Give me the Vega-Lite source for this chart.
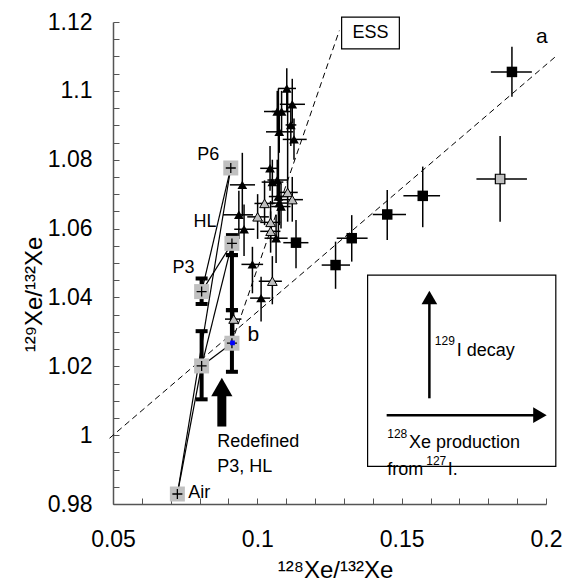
{
  "$schema": "https://vega.github.io/schema/vega-lite/v6.json",
  "autosize": "none",
  "width": 433,
  "height": 482,
  "padding": {"left": 113, "top": 22, "right": 23, "bottom": 80},
  "config": {"font": "Liberation Sans", "view": {"stroke": null}, "axis": {"grid": false}},
  "datasets": {
    "dash": [
      {"x": 0.0488, "y": 0.9991, "x2": 0.2031, "y2": 1.1098},
      {"x": 0.0911, "y": 1.0267, "x2": 0.1284, "y2": 1.1175}
    ],
    "mix": [
      {"x": 0.0723, "y": 0.9829, "x2": 0.0908, "y2": 1.0776},
      {"x": 0.0723, "y": 0.9829, "x2": 0.0807, "y2": 1.0201},
      {"x": 0.0807, "y": 1.0201, "x2": 0.0912, "y2": 1.0557},
      {"x": 0.0807, "y": 1.0201, "x2": 0.0912, "y2": 1.0267},
      {"x": 0.0807, "y": 1.0417, "x2": 0.0912, "y2": 1.0557},
      {"x": 0.0807, "y": 1.0417, "x2": 0.0908, "y2": 1.0776}
    ],
    "blk": [
      {"x": 0.1102, "y": 1.1007, "x1": 0.1072, "x2": 0.1134, "y1": 1.094, "y2": 1.1066},
      {"x": 0.1121, "y": 1.0961, "x1": 0.1078, "x2": 0.1165, "y1": 1.0905, "y2": 1.1035},
      {"x": 0.1069, "y": 1.094, "x1": 0.1023, "x2": 0.1102, "y1": 1.088, "y2": 1.1},
      {"x": 0.1084, "y": 1.094, "x1": 0.105, "x2": 0.1115, "y1": 1.088, "y2": 1.1},
      {"x": 0.1116, "y": 1.0901, "x1": 0.1098, "x2": 0.1135, "y1": 1.084, "y2": 1.096},
      {"x": 0.1076, "y": 1.0881, "x1": 0.103, "x2": 0.1124, "y1": 1.082, "y2": 1.094},
      {"x": 0.1127, "y": 1.0859, "x1": 0.1088, "x2": 0.1171, "y1": 1.08, "y2": 1.092},
      {"x": 0.0948, "y": 1.0727, "x1": 0.0905, "x2": 0.0992, "y1": 1.0635, "y2": 1.082},
      {"x": 0.1044, "y": 1.0775, "x1": 0.101, "x2": 0.1075, "y1": 1.071, "y2": 1.084},
      {"x": 0.1052, "y": 1.0735, "x1": 0.1015, "x2": 0.109, "y1": 1.067, "y2": 1.08},
      {"x": 0.1069, "y": 1.0741, "x1": 0.1035, "x2": 0.1105, "y1": 1.068, "y2": 1.08},
      {"x": 0.1073, "y": 1.0693, "x1": 0.104, "x2": 0.1108, "y1": 1.057, "y2": 1.1007},
      {"x": 0.1076, "y": 1.0674, "x1": 0.1042, "x2": 0.111, "y1": 1.061, "y2": 1.074},
      {"x": 0.1082, "y": 1.0664, "x1": 0.1048, "x2": 0.1115, "y1": 1.06, "y2": 1.073},
      {"x": 0.0936, "y": 1.064, "x1": 0.0881, "x2": 0.0985, "y1": 1.057, "y2": 1.071},
      {"x": 0.0954, "y": 1.0598, "x1": 0.092, "x2": 0.099, "y1": 1.052, "y2": 1.067},
      {"x": 0.1065, "y": 1.0572, "x1": 0.1025, "x2": 0.1105, "y1": 1.05, "y2": 1.064},
      {"x": 0.0983, "y": 1.0496, "x1": 0.0945, "x2": 0.102, "y1": 1.0412, "y2": 1.0547},
      {"x": 0.1013, "y": 1.0398, "x1": 0.0975, "x2": 0.1045, "y1": 1.033, "y2": 1.046}
    ],
    "gry": [
      {"x": 0.1105, "y": 1.0705, "x1": 0.107, "x2": 0.114, "y1": 1.062, "y2": 1.1},
      {"x": 0.1121, "y": 1.0684, "x1": 0.1085, "x2": 0.1158, "y1": 1.062, "y2": 1.075},
      {"x": 0.1025, "y": 1.0673, "x1": 0.099, "x2": 0.106, "y1": 1.061, "y2": 1.074},
      {"x": 0.1001, "y": 1.0634, "x1": 0.0965, "x2": 0.104, "y1": 1.057, "y2": 1.07},
      {"x": 0.1046, "y": 1.0618, "x1": 0.101, "x2": 0.108, "y1": 1.056, "y2": 1.068},
      {"x": 0.1046, "y": 1.0592, "x1": 0.101, "x2": 0.108, "y1": 1.053, "y2": 1.065},
      {"x": 0.1052, "y": 1.0447, "x1": 0.1005, "x2": 0.1085, "y1": 1.038, "y2": 1.052},
      {"x": 0.0918, "y": 1.0337, "x1": 0.0888, "x2": 0.0945, "y1": 1.0285, "y2": 1.0365}
    ],
    "sqb": [
      {"x": 0.1882, "y": 1.1055, "x1": 0.1809, "x2": 0.1951, "y1": 1.0983, "y2": 1.1128},
      {"x": 0.1573, "y": 1.0695, "x1": 0.1506, "x2": 0.1633, "y1": 1.0604, "y2": 1.078},
      {"x": 0.145, "y": 1.0641, "x1": 0.14, "x2": 0.1515, "y1": 1.0567, "y2": 1.0712},
      {"x": 0.1327, "y": 1.0572, "x1": 0.1275, "x2": 0.1382, "y1": 1.0504, "y2": 1.0639},
      {"x": 0.1271, "y": 1.0494, "x1": 0.1223, "x2": 0.1321, "y1": 1.0425, "y2": 1.0562},
      {"x": 0.1134, "y": 1.0559, "x1": 0.109, "x2": 0.1177, "y1": 1.0485, "y2": 1.0625}
    ],
    "sqg": [
      {"x": 0.1841, "y": 1.0744, "x1": 0.1759, "x2": 0.1934, "y1": 1.062, "y2": 1.0869}
    ],
    "mixp": [
      {"x": 0.0723, "y": 0.9829},
      {"x": 0.0908, "y": 1.0776},
      {"x": 0.0912, "y": 1.0557},
      {"x": 0.0807, "y": 1.0417},
      {"x": 0.0807, "y": 1.0201},
      {"x": 0.0912, "y": 1.0267}
    ],
    "terr": [
      {"x": 0.0807, "y1": 1.0381, "y2": 1.0455},
      {"x": 0.0807, "y1": 1.0104, "y2": 1.0302},
      {"x": 0.0912, "y1": 1.0363, "y2": 1.0581},
      {"x": 0.0912, "y1": 1.0523, "y2": 1.0523},
      {"x": 0.0912, "y1": 1.0184, "y2": 1.0363}
    ],
    "blue": [{"x": 0.0914, "y": 1.0268}],
    "boxes": [
      {"x": 0.1292, "y": 1.1122, "x2": 0.1492, "y2": 1.1214},
      {"x": 0.1382, "y": 0.9909, "x2": 0.2034, "y2": 1.0465}
    ],
    "shaft": [
      {"x": 0.1596, "y": 1.0107, "x2": 0.1596, "y2": 1.0385},
      {"x": 0.1448, "y": 1.0058, "x2": 0.1965, "y2": 1.0058}
    ],
    "headUp": [{"x": 0.1596, "y": 1.04}],
    "headRight": [{"x": 0.1979, "y": 1.0058}],
    "bigShaft": [{"x": 0.0877, "y": 1.0025, "x2": 0.0877, "y2": 1.0125}],
    "bigHead": [{"x": 0.0877, "y": 1.014}],
    "lblC": [
      {"x": 0.083, "y": 1.0814, "t": "P6"},
      {"x": 0.0819, "y": 1.062, "t": "HL"},
      {"x": 0.0744, "y": 1.0485, "t": "P3"},
      {"x": 0.1392, "y": 1.1168, "t": "ESS"}
    ],
    "lblL": [
      {"x": 0.0761, "y": 0.9831, "t": "Air"},
      {"x": 0.0861, "y": 0.9981, "t": "Redefined"},
      {"x": 0.0861, "y": 0.9908, "t": "P3, HL"},
      {"x": 0.1691, "y": 1.0245, "t": "I decay"},
      {"x": 0.1525, "y": 0.9976, "t": "Xe production"},
      {"x": 0.145, "y": 0.9899, "t": "from"},
      {"x": 0.166, "y": 0.9899, "t": "I."}
    ],
    "lblSup": [
      {"x": 0.1615, "y": 1.0273, "t": "129"},
      {"x": 0.145, "y": 1.0002, "t": "128"},
      {"x": 0.1585, "y": 0.9925, "t": "127"}
    ],
    "lblAB": [
      {"x": 0.1986, "y": 1.1156, "t": "a"},
      {"x": 0.0986, "y": 1.0291, "t": "b"}
    ]
  },
  "encoding": {
    "x": {
      "field": "x", "type": "quantitative",
      "scale": {"domain": [0.05, 0.2], "nice": false, "zero": false},
      "axis": {
        "values": [0.05, 0.06, 0.07, 0.08, 0.09, 0.1, 0.11, 0.12, 0.13, 0.14, 0.15, 0.16, 0.17, 0.18, 0.19, 0.2],
        "labelExpr": "round(datum.value*1000) % 50 === 0 ? format(datum.value, '~g') : ''",
        "tickSize": -6, "tickColor": "#555", "domainColor": "#555", "domainWidth": 1.5,
        "labelFontSize": 23, "labelColor": "black", "labelPadding": 30, "labelFlush": false, "labelOverlap": false,
        "title": "¹²⁸Xe/¹³²Xe", "titleFontSize": 24, "titleFontWeight": "normal", "titleColor": "black",
        "titleAnchor": null, "titleX": 222, "titleY": 73, "titleBaseline": "alphabetic", "titleAlign": "center"
      }
    },
    "y": {
      "field": "y", "type": "quantitative",
      "scale": {"domain": [0.98, 1.12], "nice": false, "zero": false},
      "axis": {
        "values": [0.98, 0.985, 0.99, 0.995, 1.0, 1.005, 1.01, 1.015, 1.02, 1.025, 1.03, 1.035, 1.04, 1.045, 1.05, 1.055, 1.06, 1.065, 1.07, 1.075, 1.08, 1.085, 1.09, 1.095, 1.1, 1.105, 1.11, 1.115, 1.12],
        "labelExpr": "round(datum.value*1000) % 20 === 0 ? format(datum.value, '~g') : ''",
        "tickSize": -6, "tickColor": "#555", "domainColor": "#555", "domainWidth": 1.5,
        "labelFontSize": 23, "labelColor": "black", "labelPadding": 27, "labelFlush": false, "labelOverlap": false,
        "title": "¹²⁹Xe/¹³²Xe", "titleFontSize": 24, "titleFontWeight": "normal", "titleColor": "black",
        "titleAnchor": null, "titleX": -72, "titleY": 272, "titleAngle": -90, "titleBaseline": "alphabetic", "titleAlign": "center"
      }
    }
  },
  "layer": [
    {"data": {"name": "dash"}, "mark": {"type": "rule", "strokeDash": [6, 4], "color": "black", "strokeWidth": 1},
     "encoding": {"x2": {"field": "x2"}, "y2": {"field": "y2"}}},
    {"data": {"name": "boxes"}, "mark": {"type": "rect", "fill": "white", "stroke": "black", "strokeWidth": 1.2},
     "encoding": {"x2": {"field": "x2"}, "y2": {"field": "y2"}}},
    {"data": {"name": "mix"}, "mark": {"type": "rule", "color": "black", "strokeWidth": 1.2},
     "encoding": {"x2": {"field": "x2"}, "y2": {"field": "y2"}}},
    {"data": {"name": "blk"}, "mark": {"type": "rule", "color": "black", "strokeWidth": 1.5},
     "encoding": {"x": {"field": "x1", "type": "quantitative"}, "x2": {"field": "x2"}}},
    {"data": {"name": "blk"}, "mark": {"type": "rule", "color": "black", "strokeWidth": 1.5},
     "encoding": {"y": {"field": "y1", "type": "quantitative"}, "y2": {"field": "y2"}}},
    {"data": {"name": "gry"}, "mark": {"type": "rule", "color": "black", "strokeWidth": 1.5},
     "encoding": {"x": {"field": "x1", "type": "quantitative"}, "x2": {"field": "x2"}}},
    {"data": {"name": "gry"}, "mark": {"type": "rule", "color": "black", "strokeWidth": 1.5},
     "encoding": {"y": {"field": "y1", "type": "quantitative"}, "y2": {"field": "y2"}}},
    {"data": {"name": "sqb"}, "mark": {"type": "rule", "color": "black", "strokeWidth": 1.5},
     "encoding": {"x": {"field": "x1", "type": "quantitative"}, "x2": {"field": "x2"}}},
    {"data": {"name": "sqb"}, "mark": {"type": "rule", "color": "black", "strokeWidth": 1.5},
     "encoding": {"y": {"field": "y1", "type": "quantitative"}, "y2": {"field": "y2"}}},
    {"data": {"name": "sqg"}, "mark": {"type": "rule", "color": "black", "strokeWidth": 1.5},
     "encoding": {"x": {"field": "x1", "type": "quantitative"}, "x2": {"field": "x2"}}},
    {"data": {"name": "sqg"}, "mark": {"type": "rule", "color": "black", "strokeWidth": 1.5},
     "encoding": {"y": {"field": "y1", "type": "quantitative"}, "y2": {"field": "y2"}}},
    {"data": {"name": "terr"}, "mark": {"type": "rule", "color": "black", "strokeWidth": 4},
     "encoding": {"y": {"field": "y1", "type": "quantitative"}, "y2": {"field": "y2"}}},
    {"data": {"name": "terr"}, "mark": {"type": "tick", "orient": "horizontal", "color": "black", "thickness": 4, "size": 12, "opacity": 1},
     "encoding": {"y": {"field": "y1", "type": "quantitative"}}},
    {"data": {"name": "terr"}, "mark": {"type": "tick", "orient": "horizontal", "color": "black", "thickness": 4, "size": 12, "opacity": 1},
     "encoding": {"y": {"field": "y2", "type": "quantitative"}}},
    {"data": {"name": "blk"}, "mark": {"type": "point", "shape": "triangle-up", "filled": true, "color": "black", "size": 95, "opacity": 1}},
    {"data": {"name": "gry"}, "mark": {"type": "point", "shape": "triangle-up", "filled": true, "fill": "#bfbfbf", "stroke": "black", "strokeWidth": 1, "size": 95, "opacity": 1}},
    {"data": {"name": "sqb"}, "mark": {"type": "point", "shape": "square", "filled": true, "color": "black", "size": 110, "opacity": 1}},
    {"data": {"name": "sqg"}, "mark": {"type": "point", "shape": "square", "filled": true, "fill": "#bfbfbf", "stroke": "black", "strokeWidth": 1.2, "size": 90, "opacity": 1}},
    {"data": {"name": "mixp"}, "mark": {"type": "point", "shape": "square", "filled": true, "fill": "#c0c0c0", "strokeWidth": 0, "size": 225, "opacity": 1}},
    {"data": {"name": "mixp"}, "mark": {"type": "point", "shape": "M-1,0H1M0,-1V1", "filled": false, "stroke": "black", "strokeWidth": 1.3, "size": 100, "opacity": 1}},
    {"data": {"name": "blue"}, "mark": {"type": "point", "shape": "square", "filled": true, "color": "#0000ff", "size": 22, "opacity": 1}},
    {"data": {"name": "shaft"}, "mark": {"type": "rule", "color": "black", "strokeWidth": 2.5},
     "encoding": {"x2": {"field": "x2"}, "y2": {"field": "y2"}}},
    {"data": {"name": "headUp"}, "mark": {"type": "point", "shape": "triangle-up", "filled": true, "color": "black", "size": 245, "opacity": 1}},
    {"data": {"name": "headRight"}, "mark": {"type": "point", "shape": "triangle-right", "filled": true, "color": "black", "size": 245, "opacity": 1}},
    {"data": {"name": "bigShaft"}, "mark": {"type": "rule", "color": "black", "strokeWidth": 9},
     "encoding": {"x2": {"field": "x2"}, "y2": {"field": "y2"}}},
    {"data": {"name": "bigHead"}, "mark": {"type": "point", "shape": "triangle-up", "filled": true, "color": "black", "size": 450, "opacity": 1}},
    {"data": {"name": "lblC"}, "mark": {"type": "text", "fontSize": 18, "align": "center", "baseline": "middle", "color": "black"},
     "encoding": {"text": {"field": "t"}}},
    {"data": {"name": "lblL"}, "mark": {"type": "text", "fontSize": 18, "align": "left", "baseline": "middle", "color": "black"},
     "encoding": {"text": {"field": "t"}}},
    {"data": {"name": "lblSup"}, "mark": {"type": "text", "fontSize": 12, "align": "left", "baseline": "middle", "color": "black"},
     "encoding": {"text": {"field": "t"}}},
    {"data": {"name": "lblAB"}, "mark": {"type": "text", "fontSize": 21, "align": "center", "baseline": "middle", "color": "black"},
     "encoding": {"text": {"field": "t"}}}
  ]
}
